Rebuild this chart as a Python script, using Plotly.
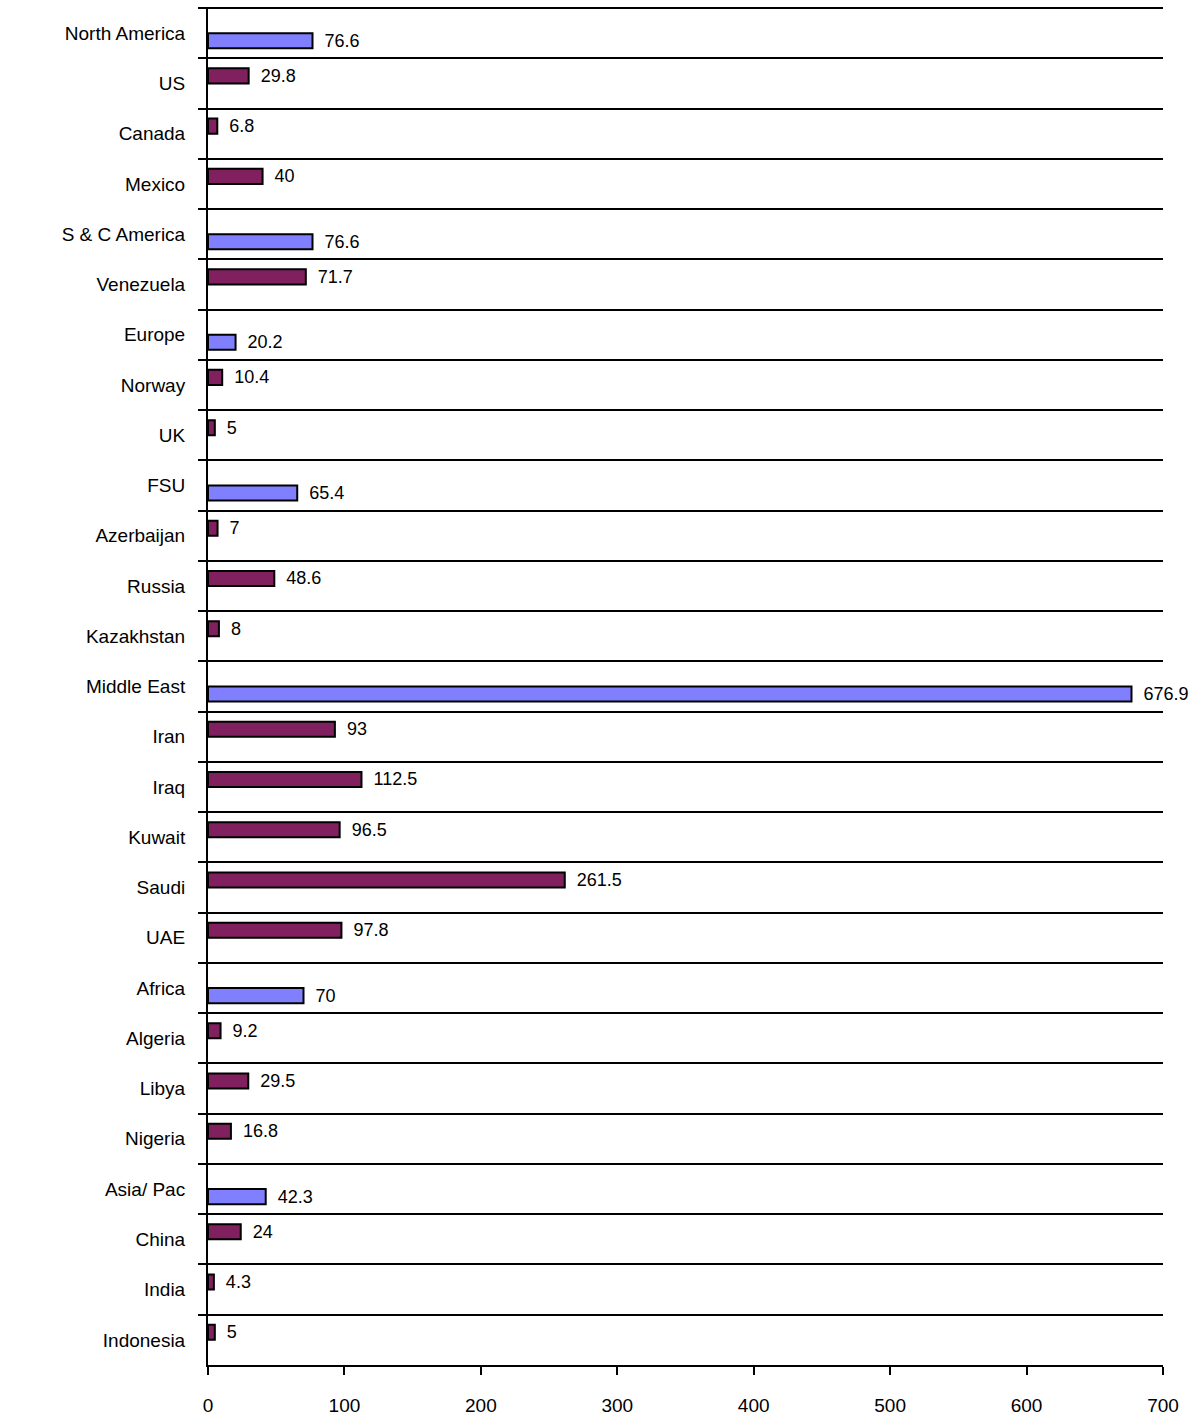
import plotly.graph_objects as go

# Categories (top to bottom) and their values
categories = [
    "North America", "US", "Canada", "Mexico",
    "S & C America", "Venezuela",
    "Europe", "Norway", "UK",
    "FSU", "Azerbaijan", "Russia", "Kazakhstan",
    "Middle East", "Iran", "Iraq", "Kuwait", "Saudi", "UAE",
    "Africa", "Algeria", "Libya", "Nigeria",
    "Asia/ Pac", "China", "India", "Indonesia",
]
values = [
    76.6, 29.8, 6.8, 40,
    76.6, 71.7,
    20.2, 10.4, 5,
    65.4, 7, 48.6, 8,
    676.9, 93, 112.5, 96.5, 261.5, 97.8,
    70, 9.2, 29.5, 16.8,
    42.3, 24, 4.3, 5,
]
# True for regional totals, False for individual countries
is_region = [
    True, False, False, False,
    True, False,
    True, False, False,
    True, False, False, False,
    True, False, False, False, False, False,
    True, False, False, False,
    True, False, False, False,
]
x_ticks = [0, 100, 200, 300, 400, 500, 600, 700]

region_vals = [v if r else None for v, r in zip(values, is_region)]
country_vals = [None if r else v for v, r in zip(values, is_region)]

def labels(vals):
    # en space keeps the value label a little away from the bar end
    return ["\u2002" + f"{v:g}" if v is not None else "" for v in vals]

FONT = "Liberation Sans, Arial, sans-serif"
PLOT_W = 1200 - 208 - 37

fig = go.Figure()
fig.add_trace(go.Bar(
    name="Countries", y=categories, x=country_vals, orientation="h",
    marker=dict(color="#80205F", line=dict(color="black", width=2)),
    text=labels(country_vals), textposition="outside", cliponaxis=False,
    constraintext="none",
    textfont=dict(family=FONT, size=18, color="black"),
))
fig.add_trace(go.Bar(
    name="Regions", y=categories, x=region_vals, orientation="h",
    marker=dict(color="#8080FF", line=dict(color="black", width=2)),
    text=labels(region_vals), textposition="outside", cliponaxis=False,
    constraintext="none",
    textfont=dict(family=FONT, size=18, color="black"),
))

# top frame line with its outside tick, closing the first category band
fig.add_shape(
    type="line", xref="paper", yref="paper",
    x0=-8 / PLOT_W, x1=1, y0=1, y1=1,
    line=dict(color="black", width=2),
)

fig.update_layout(
    width=1200, height=1418,
    margin=dict(l=208, r=37, t=8, b=53),
    paper_bgcolor="white", plot_bgcolor="white",
    barmode="group", bargap=0.4, bargroupgap=0,
    showlegend=False,
    font=dict(family=FONT, size=19, color="black"),
)
fig.update_xaxes(
    range=[0, 700], tickvals=x_ticks, ticktext=[str(t) for t in x_ticks],
    showgrid=False, zeroline=False, automargin=False,
    showline=True, linecolor="black", linewidth=2,
    ticks="outside", ticklen=8, tickwidth=2, tickcolor="black",
    tickfont=dict(family=FONT, size=19, color="black"),
    ticklabelstandoff=14,
)
fig.update_yaxes(
    autorange="reversed", type="category", automargin=False,
    tickson="boundaries", showgrid=True, gridcolor="black", gridwidth=2,
    showline=True, linecolor="black", linewidth=2,
    ticks="outside", ticklen=8, tickwidth=2, tickcolor="black",
    tickfont=dict(family=FONT, size=19, color="black"),
    ticklabelstandoff=17,
)

fig.write_html("out.html")
